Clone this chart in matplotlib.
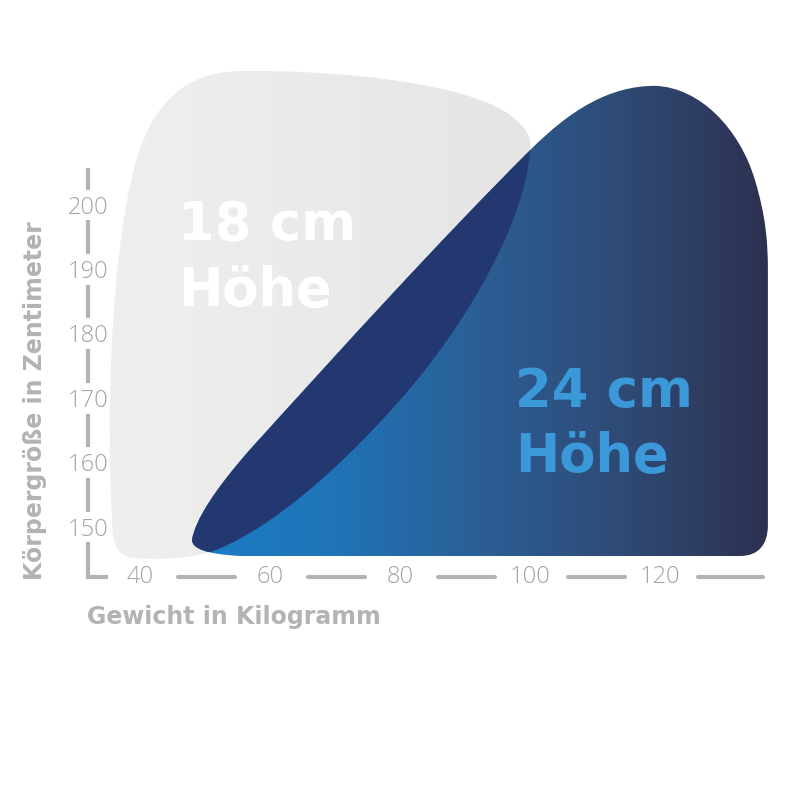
import matplotlib
matplotlib.use("Agg")
import matplotlib.pyplot as plt
import numpy as np
from matplotlib.path import Path
from matplotlib.patches import PathPatch
from matplotlib.colors import LinearSegmentedColormap

# Ticks (weight in kg, height in cm)
x_ticks = [40, 60, 80, 100, 120]
y_ticks = [150, 160, 170, 180, 190, 200]

# Outline of the 18 cm zone (kg, cm), cubic bezier: start + 3 points per segment
gray_start = (35.7, 151.1)
gray_curves = [
    (34.8, 166.6), (35.4, 191.5), (39.2, 206.2),
    (41.5, 214.8), (46.2, 220.7), (55.4, 220.8),
    (72.3, 221.0), (90.8, 218.6), (96.9, 214.0),
    (99.7, 212.0), (100.3, 210.1), (100.0, 208.3),
    (99.2, 197.7), (90.8, 182.1), (80.0, 169.7),
    (69.2, 157.3), (58.5, 148.8), (50.8, 146.1),
    (46.9, 144.9), (41.5, 144.9), (39.2, 145.2),
    (36.6, 145.3), (35.7, 147.2), (35.7, 151.1),
]

# Outline of the 24 cm zone (kg, cm)
blue_start = (48.0, 148.0)
blue_segments = [
    ("C", [(48.5, 151.1), (51.5, 155.8), (56.9, 162.0)]),
    ("C", [(70.8, 177.5), (86.2, 194.6), (100.0, 208.5)]),
    ("C", [(106.2, 214.8), (112.3, 218.5), (119.2, 218.5)]),
    ("C", [(126.2, 218.3), (132.3, 211.7), (134.6, 203.9)]),
    ("C", [(136.2, 198.5), (136.6, 194.6), (136.6, 189.9)]),
    ("L", [(136.6, 150.3)]),
    ("C", [(136.6, 147.2), (135.1, 145.5), (132.3, 145.5)]),
    ("L", [(55.4, 145.5)]),
    ("C", [(50.0, 145.8), (48.0, 146.7), (48.0, 148.0)]),
]

gray_colors = ["#efefef", "#e5e5e5"]
blue_colors = ["#1b7cc6", "#1f74b6", "#2b5e95", "#2f4a75", "#2d3150"]
overlap_color = "#233771"
axis_color = "#b3b3b3"


def make_path(start, segs):
    verts = [start]
    codes = [Path.MOVETO]
    for kind, pts in segs:
        verts += pts
        codes += [Path.CURVE4] * 3 if kind == "C" else [Path.LINETO]
    verts.append(start)
    codes.append(Path.CLOSEPOLY)
    return Path(verts, codes)


gray_path = make_path(gray_start, [("C", gray_curves[i:i + 3]) for i in range(0, len(gray_curves), 3)])
blue_path = make_path(blue_start, blue_segments)

fig = plt.figure(figsize=(8, 8), dpi=100)
ax = fig.add_axes([0, 0, 1, 1])
ax.axis("off")

# gray zone with soft gradient
gpatch = PathPatch(gray_path, facecolor="none", edgecolor="none")
ax.add_patch(gpatch)
gx = gray_path.vertices[:, 0]
gy = gray_path.vertices[:, 1]
im = ax.imshow(np.linspace(0, 1, 256)[None, :], cmap=LinearSegmentedColormap.from_list("g", gray_colors),
               extent=[gx.min(), gx.max(), gy.min(), gy.max()], aspect="auto", zorder=1)
im.set_clip_path(gpatch)

# blue zone with gradient
bpatch = PathPatch(blue_path, facecolor="none", edgecolor="none")
ax.add_patch(bpatch)
bx = blue_path.vertices[:, 0]
by = blue_path.vertices[:, 1]
im2 = ax.imshow(np.linspace(0, 1, 256)[None, :], cmap=LinearSegmentedColormap.from_list("b", blue_colors),
                extent=[bx.min(), bx.max(), by.min(), by.max()], aspect="auto", zorder=2)
im2.set_clip_path(bpatch)

# overlap of both zones
opatch = PathPatch(blue_path, facecolor=overlap_color, edgecolor="none", zorder=3)
ax.add_patch(opatch)
opatch.set_clip_path(PathPatch(gray_path, transform=ax.transData))

ax.set_xlim(18.46, 141.54)
ax.set_ylim(107.61, 231.83)

# axis lines, broken around the tick labels
lw = 3.0
x_axis = 32.0
y_axis = 142.2
ax.plot([x_axis, x_axis], [y_ticks[-1] + 5.7, y_ticks[-1] + 2.4], color=axis_color, lw=lw, solid_capstyle="butt")
for a, b in zip(y_ticks[:-1], y_ticks[1:]):
    ax.plot([x_axis, x_axis], [a + 2.4, b - 2.4], color=axis_color, lw=lw, solid_capstyle="butt")
ax.plot([x_axis, x_axis, 35.0], [y_ticks[0] - 2.4, y_axis, y_axis], color=axis_color, lw=lw,
        solid_capstyle="butt", solid_joinstyle="miter")
for a, b in zip(x_ticks[:-1], x_ticks[1:]):
    ax.plot([a + 5.8, b - 5.4], [y_axis, y_axis], color=axis_color, lw=lw, solid_capstyle="round")
ax.plot([x_ticks[-1] + 5.8, 135.8], [y_axis, y_axis], color=axis_color, lw=lw, solid_capstyle="round")

tick_font = dict(family="Open Sans", fontweight="light", fontsize=17, color="#a3a3a3")
for v in y_ticks:
    ax.text(x_axis, v - 0.4, str(v), ha="center", va="center", **tick_font)
for v in x_ticks:
    ax.text(v, y_axis, str(v), ha="center", va="center", **tick_font)

label_font = dict(family="DejaVu Sans", fontweight="bold", fontsize=17, color="#b3b3b3")
ax.text(23.9, 169.7, "Körpergröße in Zentimeter", rotation=90, ha="center", va="center", **label_font)
ax.text(31.9, 136.0, "Gewicht in Kilogramm", ha="left", va="center", **label_font)

big_font = dict(family="DejaVu Sans", fontweight="bold", fontsize=38)
ax.text(45.8, 196.9, "18 cm", ha="left", va="center", color="white", zorder=5, **big_font)
ax.text(45.8, 186.7, "Höhe", ha="left", va="center", color="white", zorder=5, **big_font)
ax.text(97.7, 170.9, "24 cm", ha="left", va="center", color="#3b98d9", zorder=5, **big_font)
ax.text(97.7, 160.8, "Höhe", ha="left", va="center", color="#3b98d9", zorder=5, **big_font)

fig.savefig("out.png", dpi=100)
